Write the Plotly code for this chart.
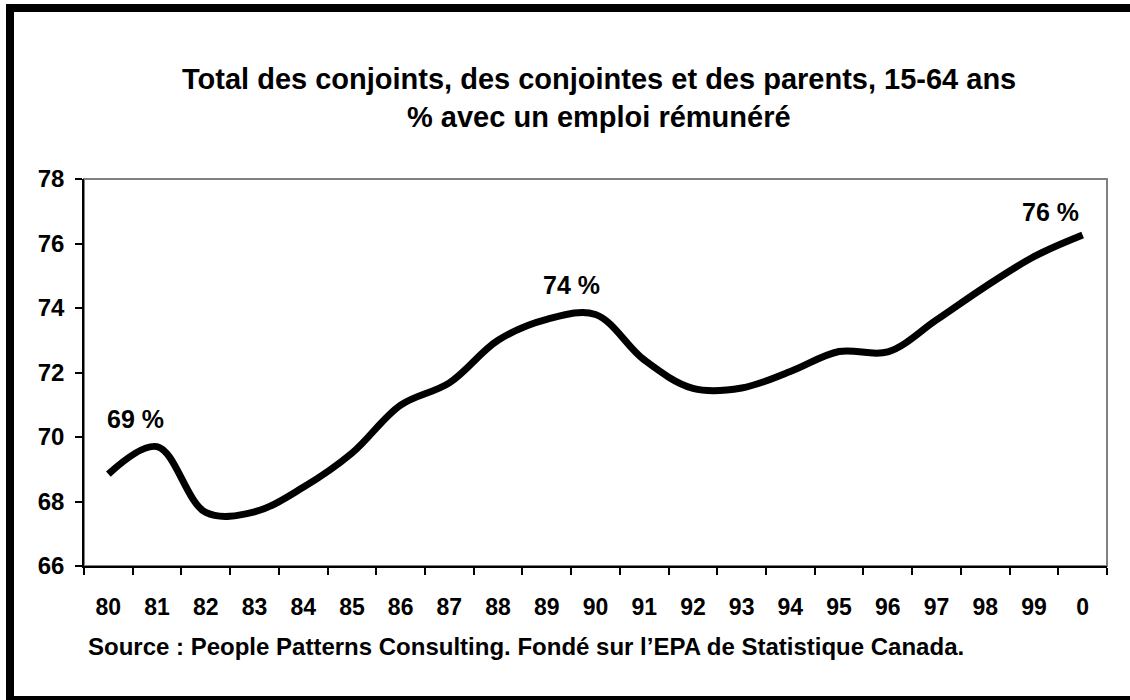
import plotly.graph_objects as go

categories = ["80", "81", "82", "83", "84", "85", "86", "87", "88", "89", "90",
              "91", "92", "93", "94", "95", "96", "97", "98", "99", "0"]
values = [68.85, 69.7, 67.66, 67.68, 68.44, 69.5, 70.99, 71.68, 73.0, 73.65, 73.8,
          72.39, 71.51, 71.52, 72.03, 72.65, 72.64, 73.63, 74.66, 75.59, 76.26]
label_texts = ["69 %", "74 %", "76 %"]
label_x = [0.56, 9.5, 19.33]
label_y = [70.56, 74.71, 76.98]
y_ticks = [66, 68, 70, 72, 74, 76, 78]
title_lines = ["Total des conjoints, des conjointes et des parents, 15-64 ans",
               "% avec un emploi rémunéré"]
source_text = "Source : People Patterns Consulting. Fondé sur l’EPA de Statistique Canada."

W, H = 1130, 700
ML, MR, MT, MB = 84, 23, 179, 134
PW, PH = W - ML - MR, H - MT - MB


def px(x):
    return (x - ML) / PW


def py(y):
    return (H - MB - y) / PH


FONT = "Liberation Sans, Arial, sans-serif"

fig = go.Figure()
fig.add_trace(go.Scatter(
    x=categories, y=values, mode="lines",
    line=dict(color="black", width=7, shape="spline", smoothing=1.0),
    hoverinfo="skip", showlegend=False,
))

annotations = []
for t, x, y in zip(label_texts, label_x, label_y):
    annotations.append(dict(x=x, y=y, xref="x", yref="y", text=f"<b>{t}</b>",
                            showarrow=False, font=dict(family=FONT, size=25, color="black")))
annotations.append(dict(x=px(599), y=py(79), xref="paper", yref="paper",
                        text=f"<b>{title_lines[0]}</b>", showarrow=False,
                        xanchor="center", yanchor="middle",
                        font=dict(family=FONT, size=29, color="black")))
annotations.append(dict(x=px(599), y=py(117), xref="paper", yref="paper",
                        text=f"<b>{title_lines[1]}</b>", showarrow=False,
                        xanchor="center", yanchor="middle",
                        font=dict(family=FONT, size=29, color="black")))
annotations.append(dict(x=px(86), y=py(646), xref="paper", yref="paper",
                        text=f"<b>{source_text}</b>", showarrow=False,
                        xanchor="left", yanchor="middle",
                        font=dict(family=FONT, size=24, color="black")))

shapes = [
    dict(type="rect", xref="paper", yref="paper", x0=0, y0=0, x1=1, y1=1,
         line=dict(color="#808080", width=2), layer="below"),
    dict(type="rect", xref="paper", yref="paper",
         x0=px(10), y0=py(8), x1=px(1136), y1=py(700),
         line=dict(color="black", width=8), layer="above"),
]

fig.update_layout(
    width=W, height=H,
    margin=dict(l=ML, r=MR, t=MT, b=MB),
    paper_bgcolor="white", plot_bgcolor="white",
    annotations=annotations, shapes=shapes,
    xaxis=dict(type="category", tickson="boundaries", showgrid=False,
               showline=True, linecolor="black", linewidth=1.5,
               ticks="outside", ticklen=7, tickcolor="black", tickwidth=1.5,
               tickfont=dict(family=FONT, size=23, color="black", weight="bold"),
               ticklabelstandoff=20, range=[-0.5, 20.5], zeroline=False),
    yaxis=dict(range=[66, 78], tickvals=y_ticks, showgrid=False, zeroline=False,
               showline=True, linecolor="black", linewidth=1.5,
               ticks="outside", ticklen=7, tickcolor="black", tickwidth=1.5,
               tickfont=dict(family=FONT, size=24, color="black", weight="bold"),
               ticklabelstandoff=6),
)

fig.write_html("out.html", config={"displayModeBar": False},
               post_script="document.body.style.margin='0';")
